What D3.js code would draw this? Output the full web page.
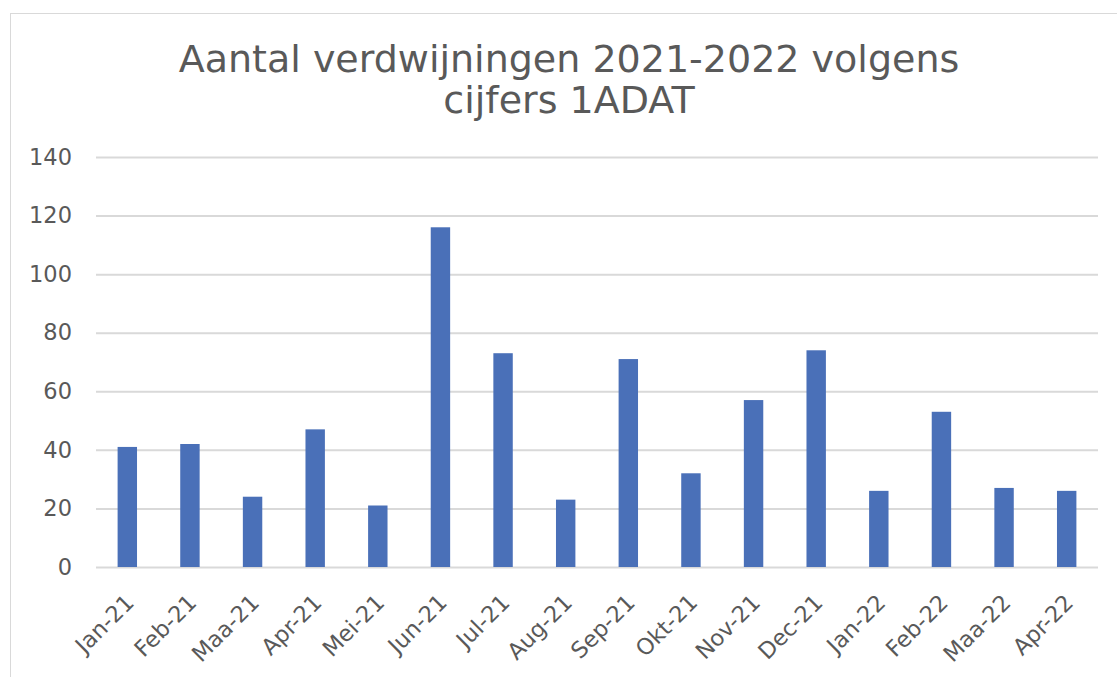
<!DOCTYPE html>
<html><head><meta charset="utf-8">
<script src="https://cdn.jsdelivr.net/npm/d3@7"></script>
<style>
html,body{margin:0;padding:0;background:#fff;}
svg{display:block;}
text{font-family:"DejaVu Sans",Verdana,sans-serif;fill:#595959;}
</style></head>
<body>
<svg id="chart" width="1117" height="677"></svg>
<script>
const categories = ["Jan-21","Feb-21","Maa-21","Apr-21","Mei-21","Jun-21","Jul-21","Aug-21","Sep-21","Okt-21","Nov-21","Dec-21","Jan-22","Feb-22","Maa-22","Apr-22"];
const values = [41,42,24,47,21,116,73,23,71,32,57,74,26,53,27,26];
const yTicks = [0,20,40,60,80,100,120,140];
const titleLines = ["Aantal verdwijningen 2021-2022 volgens","cijfers 1ADAT"];

const svg = d3.select("#chart");
svg.append("rect").attr("x",10.5).attr("y",13.5).attr("width",1200).attr("height",800)
  .attr("fill","#fff").attr("stroke","#d9d9d9").attr("stroke-width",1);

const m = {left:96, right:1098, top:157, bottom:567};
const x = d3.scaleBand().domain(categories).range([m.left,m.right]).paddingInner(0.69).paddingOuter(0.345);
const y = d3.scaleLinear().domain([0,140]).range([m.bottom,m.top]);

const g = svg.append("g");
const yAxis = g.append("g").attr("transform",`translate(${m.left},0)`)
  .call(d3.axisLeft(y).tickValues(yTicks).tickSize(-(m.right-m.left)).tickPadding(24));
yAxis.select(".domain").remove();
yAxis.selectAll("line").attr("stroke","#d9d9d9").attr("stroke-width",2);
yAxis.selectAll("text").attr("font-size",22.5).style("fill","#595959").attr("font-family","DejaVu Sans");

g.selectAll("rect.bar").data(values).join("rect").attr("class","bar")
  .attr("x",(d,i)=>x(categories[i])).attr("width",x.bandwidth())
  .attr("y",d=>y(d)).attr("height",d=>y(0)-y(d)).attr("fill","#4a70b8");

const xAxis = g.append("g").attr("transform",`translate(0,${m.bottom})`)
  .call(d3.axisBottom(x).tickSize(0).tickPadding(0));
xAxis.select(".domain").remove();
xAxis.selectAll("text").attr("font-size",22.5).style("fill","#595959").attr("font-family","DejaVu Sans")
  .attr("text-anchor","end").attr("x",0).attr("y",0).attr("dy",null)
  .attr("transform","translate(8,37) rotate(-45)");

const t = svg.append("text").attr("text-anchor","middle").attr("font-size",38);
titleLines.forEach((s,i)=>{
  t.append("tspan").attr("x",569).attr("y",72+i*41).text(s);
});
</script>
</body></html>
